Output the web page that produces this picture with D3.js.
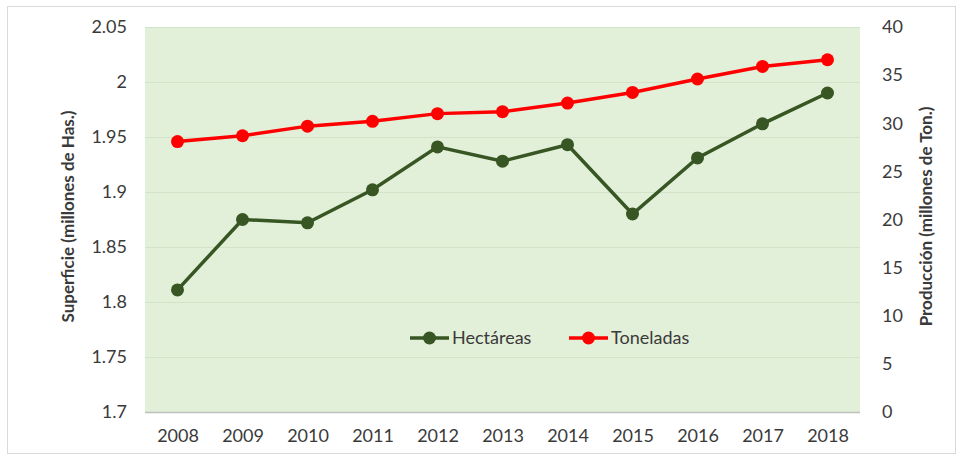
<!DOCTYPE html>
<html>
<head>
<meta charset="utf-8">
<script src="https://cdn.jsdelivr.net/npm/d3@7"></script>
<style>
  body { margin: 0; background: #fff; }
  svg text { font-family: Lato, "Open Sans", sans-serif; fill: #3a3a3a; }
</style>
</head>
<body>
<div class="chart"></div>
<script>
const years = ["2008", "2009", "2010", "2011", "2012", "2013", "2014", "2015", "2016", "2017", "2018"]
const hectareas = [1.811, 1.875, 1.872, 1.902, 1.941, 1.928, 1.943, 1.880, 1.931, 1.962, 1.990]
const toneladas = [28.1, 28.7, 29.7, 30.2, 31.0, 31.2, 32.1, 33.2, 34.6, 35.9, 36.6]
const leftTicks = [1.7, 1.75, 1.8, 1.85, 1.9, 1.95, 2, 2.05]
const rightTicks = [0, 5, 10, 15, 20, 25, 30, 35, 40]

const W = 964, H = 464
const margin = {top: 27, right: 104, bottom: 52, left: 145},
    width = W - margin.left - margin.right,
    height = H - margin.top - margin.bottom

const svg = d3.select(".chart").append("svg")
    .attr("width", W)
    .attr("height", H)

// outer frame
svg.append("rect")
    .attr("x", 7.5).attr("y", 6.5)
    .attr("width", W - 16).attr("height", 447)
    .attr("fill", "#fff")
    .attr("stroke", "#d9d9d9")

const g = svg.append("g")
    .attr("transform", "translate(" + margin.left + "," + margin.top + ")")

const x = d3.scalePoint()
    .domain(years)
    .range([0, width])
    .padding(0.5)

const yL = d3.scaleLinear().domain([1.7, 2.05]).range([height, 0])
const yR = d3.scaleLinear().domain([0, 40]).range([height, 0])

g.append("rect")
    .attr("width", width)
    .attr("height", height)
    .attr("fill", "#e2efd9")

// gridlines
g.append("g")
    .attr("class", "grid")
    .call(d3.axisLeft(yL).tickValues(leftTicks.slice(1)).tickSize(-width).tickFormat(""))
    .call(s => s.select(".domain").remove())
    .call(s => s.selectAll("line").attr("stroke", "#d3e3c8"))

// bottom axis line
g.append("line")
    .attr("x1", 0).attr("x2", width)
    .attr("y1", height + 0.5).attr("y2", height + 0.5)
    .attr("stroke", "#bfbfbf")
    .attr("stroke-width", 1.5)

const xAxis = g.append("g")
    .attr("transform", "translate(0," + height + ")")
    .call(d3.axisBottom(x).tickSize(0).tickPadding(17))
xAxis.select(".domain").remove()
xAxis.selectAll("text").style("font-size", "18px")

const leftAxis = g.append("g")
    .call(d3.axisLeft(yL).tickValues(leftTicks).tickSize(0).tickPadding(18).tickFormat(d3.format("")))
leftAxis.select(".domain").remove()
leftAxis.selectAll("text").style("font-size", "18px")

const rightAxis = g.append("g")
    .attr("transform", "translate(" + width + ",0)")
    .call(d3.axisRight(yR).tickValues(rightTicks).tickSize(0).tickPadding(22))
rightAxis.select(".domain").remove()
rightAxis.selectAll("text").style("font-size", "18px")

svg.append("text")
    .attr("transform", "translate(74," + (margin.top + height / 2 - 3) + ") rotate(-90)")
    .attr("text-anchor", "middle")
    .style("font-size", "17px")
    .style("font-weight", "bold")
    .text("Superficie (millones de Has.)")

svg.append("text")
    .attr("transform", "translate(932," + (margin.top + height / 2 - 3) + ") rotate(-90)")
    .attr("text-anchor", "middle")
    .style("font-size", "17px")
    .style("font-weight", "bold")
    .text("Producción (millones de Ton.)")

const series = [
    {name: "Hectáreas", values: hectareas, y: yL, color: "#375623"},
    {name: "Toneladas", values: toneladas, y: yR, color: "#ff0000"}
]

series.forEach(function(s) {
    const line = d3.line()
        .x(function(d, i) { return x(years[i]) })
        .y(function(d) { return s.y(d) })
    g.append("path")
        .datum(s.values)
        .attr("d", line)
        .attr("fill", "none")
        .attr("stroke", s.color)
        .attr("stroke-width", 3.5)
    g.selectAll(null)
        .data(s.values)
        .enter().append("circle")
        .attr("cx", function(d, i) { return x(years[i]) })
        .attr("cy", function(d) { return s.y(d) })
        .attr("r", 6.5)
        .attr("fill", s.color)
})

// legend
const legend = svg.selectAll(".legend")
    .data(series)
    .enter().append("g")
    .attr("class", "legend")
    .attr("transform", function(d, i) { return "translate(" + (410 + i * 159) + ",338)" })

legend.append("line")
    .attr("x1", 0).attr("x2", 39)
    .attr("stroke", function(d) { return d.color })
    .attr("stroke-width", 3.5)

legend.append("circle")
    .attr("cx", 19.5)
    .attr("r", 6.5)
    .attr("fill", function(d) { return d.color })

legend.append("text")
    .attr("x", 42)
    .attr("dy", "0.35em")
    .style("font-size", "18px")
    .text(function(d) { return d.name })
</script>
</body>
</html>
